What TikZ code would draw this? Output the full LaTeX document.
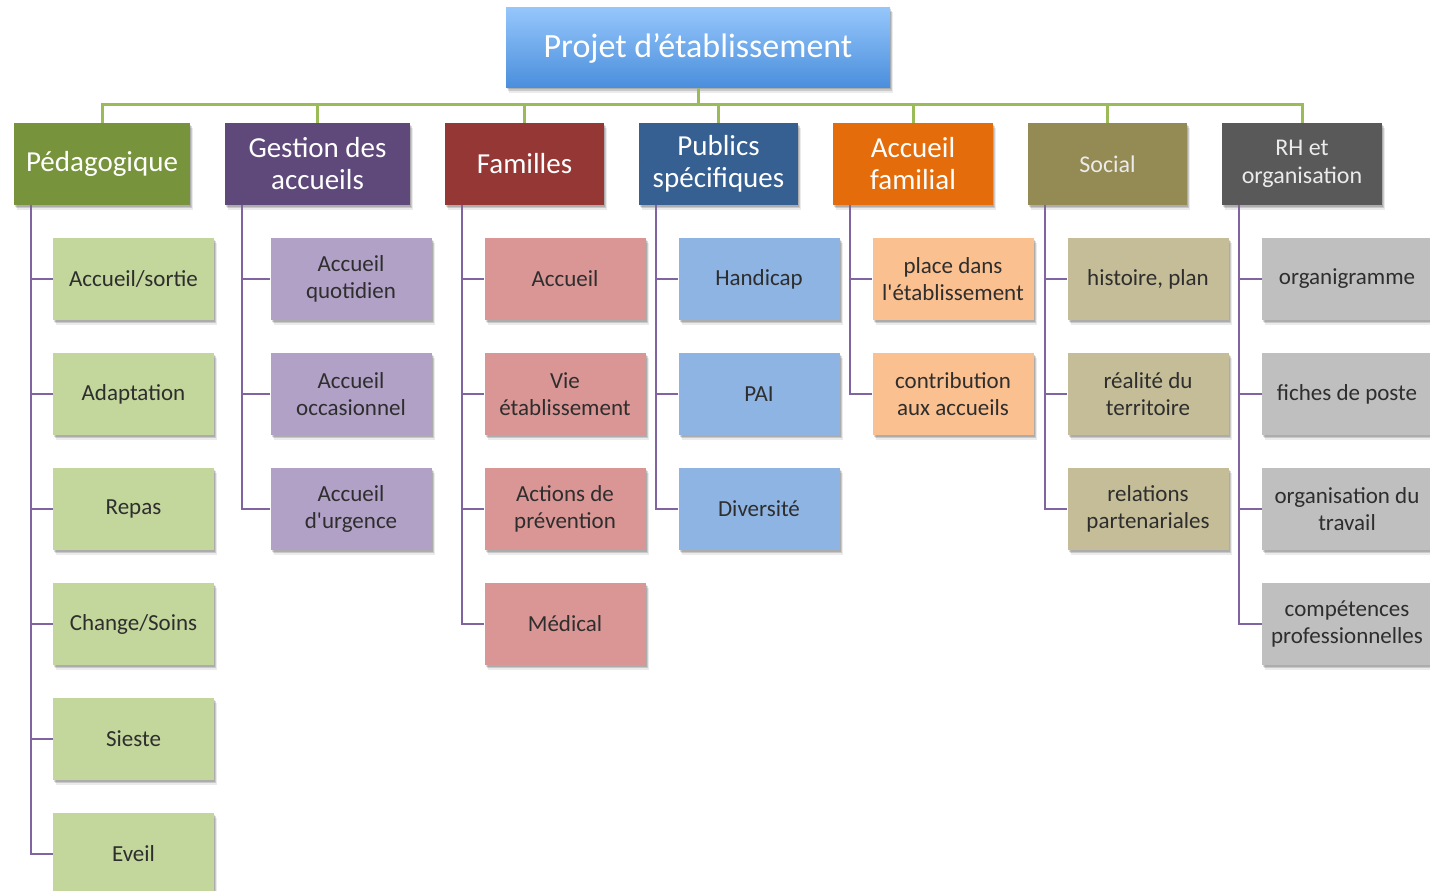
\documentclass[tikz,border=0pt]{standalone}
\usepackage{fontspec}
\setmainfont{Carlito}
\usetikzlibrary{shadows}
\definecolor{rootT}{HTML}{95C6FB}
\definecolor{rootB}{HTML}{4A8EDC}
\definecolor{gline}{HTML}{9BBB59}
\definecolor{pline}{HTML}{8064A2}
\definecolor{txt}{HTML}{2E2E2E}
\definecolor{cA}{HTML}{77933C}\definecolor{lA}{HTML}{C3D69B}
\definecolor{cB}{HTML}{5F497A}\definecolor{lB}{HTML}{B2A1C7}
\definecolor{cC}{HTML}{953735}\definecolor{lC}{HTML}{D99694}
\definecolor{cD}{HTML}{376092}\definecolor{lD}{HTML}{8EB4E3}
\definecolor{cE}{HTML}{E46C0A}\definecolor{lE}{HTML}{FAC090}
\definecolor{cF}{HTML}{948A54}\definecolor{lF}{HTML}{C4BD97}
\definecolor{cG}{HTML}{595959}\definecolor{lG}{HTML}{BFBFBF}
\newcommand{\sq}{\textquotesingle}
\begin{document}
\begin{tikzpicture}[x=1pt,y=-1pt,
  box/.style={rectangle, inner sep=0pt, align=center,
    drop shadow={shadow xshift=3pt, shadow yshift=-4.5pt, opacity=0.08, fill=black},
    drop shadow={shadow xshift=2pt, shadow yshift=-3pt, opacity=0.14, fill=black},
    drop shadow={shadow xshift=1pt, shadow yshift=-1.5pt, opacity=0.14, fill=black}},
  lvl/.style={box, minimum height=82pt, text=white, font=\fontsize{29}{32}\selectfont},
  lvlsmall/.style={lvl, font=\fontsize{24}{28}\selectfont, text=white!92!black},
  kid/.style={box, minimum width=161pt, minimum height=82pt, text=txt, font=\fontsize{23}{27.5}\selectfont},
  topline/.style={draw=gline, line width=3pt},
  subline/.style={draw=pline, line width=2.4pt}]
\useasboundingbox (0,0) rectangle (1430,891);
\fill[white] (0,0) rectangle (1430,891);

% root
\node[box, minimum width=384pt, minimum height=80pt, top color=rootT, bottom color=rootB,
  text=white, font=\fontsize{34}{38}\selectfont] (root) at (698,48) {Projet d’établissement};

% level 1
\node[lvl, fill=cA, minimum width=176pt] (p1) at (102,164) {Pédagogique};
\node[lvl, fill=cB, minimum width=185pt] (p2) at (317.5,164) {Gestion des\\accueils};
\node[lvl, fill=cC, minimum width=159pt] (p3) at (524.5,164) {Familles};
\node[lvl, fill=cD, minimum width=159pt] (p4) at (718.5,164) {Publics\\spécifiques};
\node[lvl, fill=cE, minimum width=160pt] (p5) at (913,164) {Accueil\\familial};
\node[lvlsmall, fill=cF, minimum width=159pt] (p6) at (1107.5,164) {Social};
\node[lvlsmall, fill=cG, minimum width=160pt] (p7) at (1302,164) {RH et\\organisation};

% children
\node[kid, fill=lA] (a1) at (133.5,279) {Accueil/sortie};
\node[kid, fill=lA] (a2) at (133.5,394) {Adaptation};
\node[kid, fill=lA] (a3) at (133.5,509) {Repas};
\node[kid, fill=lA] (a4) at (133.5,624) {Change/Soins};
\node[kid, fill=lA] (a5) at (133.5,739) {Sieste};
\node[kid, fill=lA] (a6) at (133.5,854) {Eveil};

\node[kid, fill=lB] (b1) at (351,279) {Accueil\\quotidien};
\node[kid, fill=lB] (b2) at (351,394) {Accueil\\occasionnel};
\node[kid, fill=lB] (b3) at (351,509) {Accueil\\d\sq urgence};

\node[kid, fill=lC] (c1) at (565,279) {Accueil};
\node[kid, fill=lC] (c2) at (565,394) {Vie\\établissement};
\node[kid, fill=lC] (c3) at (565,509) {Actions de\\prévention};
\node[kid, fill=lC] (c4) at (565,624) {Médical};

\node[kid, fill=lD] (d1) at (759,279) {Handicap};
\node[kid, fill=lD] (d2) at (759,394) {PAI};
\node[kid, fill=lD] (d3) at (759,509) {Diversité};

\node[kid, fill=lE] (e1) at (953,279) {place dans\\l\sq établissement};
\node[kid, fill=lE] (e2) at (953,394) {contribution\\aux accueils};

\node[kid, fill=lF] (f1) at (1148,279) {histoire, plan};
\node[kid, fill=lF] (f2) at (1148,394) {réalité du\\territoire};
\node[kid, fill=lF] (f3) at (1148,509) {relations\\partenariales};

\node[kid, fill=lG, minimum width=170pt] (g1) at (1347,279) {organigramme};
\node[kid, fill=lG, minimum width=170pt] (g2) at (1347,394) {fiches de poste};
\node[kid, fill=lG, minimum width=170pt] (g3) at (1347,509) {organisation du\\travail};
\node[kid, fill=lG, minimum width=170pt] (g4) at (1347,624) {compétences\\professionnelles};

% top connectors
\coordinate (bus) at (698,104);
\foreach \p in {p1,p2,p3,p4,p5,p6,p7}
  \draw[topline] (root.south) |- (bus) -| (\p.north);

% sub connectors
\foreach \p/\list in {p1/{a1,a2,a3,a4,a5,a6}, p2/{b1,b2,b3}, p3/{c1,c2,c3,c4},
    p4/{d1,d2,d3}, p5/{e1,e2}, p6/{f1,f2,f3}, p7/{g1,g2,g3,g4}}
  \foreach \c in \list
    \draw[subline] ([xshift=17pt]\p.south west) |- (\c.west);
\end{tikzpicture}
\end{document}
